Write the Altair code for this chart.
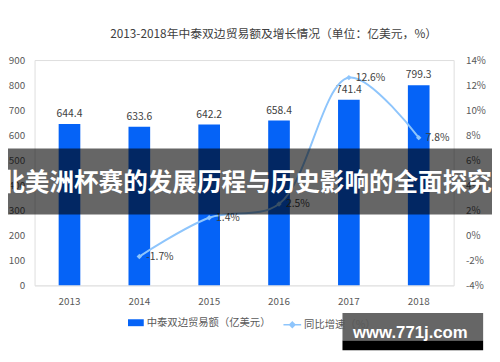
import altair as alt
import pandas as pd

years = ["2013", "2014", "2015", "2016", "2017", "2018"]
trade = [644.4, 633.6, 642.2, 658.4, 741.4, 799.3]
growth_years = ["2014", "2015", "2016", "2017", "2018"]
growth = [-1.7, 1.4, 2.5, 12.6, 7.8]
left_ticks = [0, 100, 200, 300, 400, 500, 600, 700, 800, 900]
right_ticks = [-4, -2, 0, 2, 4, 6, 8, 10, 12, 14]
title_text = "2013-2018年中泰双边贸易额及增长情况（单位：亿美元，%）"
bar_name = "中泰双边贸易额（亿美元）"
line_name = "同比增速（%）"
banner_text = "北美洲杯赛的发展历程与历史影响的全面探究"
watermark_text = "www.771j.com"

FONT = "Noto Sans CJK SC"
BLUE = "#0563f7"
LIGHT = "#8ec5fc"
GREY = "#595959"

bars_df = pd.DataFrame({"year": years, "trade": trade, "s1": bar_name})
line_df = pd.DataFrame({
    "year": growth_years,
    "growth": growth,
    "label": [f"{g}%" for g in growth],
    "s2": line_name,
})

x_enc = alt.X(
    "year:N", sort=years,
    scale=alt.Scale(domain=years, paddingInner=0.69, paddingOuter=0.345),
    axis=alt.Axis(title=None, labelAngle=0, ticks=False, domainColor="#e3e3e3",
                  labelPadding=11, labelFontSize=10, labelColor=GREY, labelFont=FONT),
)
y_left = alt.Y(
    "trade:Q",
    scale=alt.Scale(domain=[0, 900], nice=False, zero=False),
    axis=alt.Axis(title=None, orient="left", values=left_ticks, grid=False, domain=False,
                  ticks=False, labelPadding=10, labelFontSize=10, labelColor=GREY, labelFont=FONT),
)
y_right = alt.Y(
    "growth:Q",
    scale=alt.Scale(domain=[-4, 14], nice=False, zero=False),
    axis=alt.Axis(title=None, orient="right", values=right_ticks, grid=False, domain=False,
                  ticks=False, labelPadding=12, labelFontSize=10, labelColor=GREY, labelFont=FONT,
                  labelExpr="datum.value + '%'"),
)

bars = alt.Chart(bars_df).mark_bar().encode(
    x=x_enc, y=y_left,
    color=alt.Color("s1:N", scale=alt.Scale(domain=[bar_name], range=[BLUE]),
                    legend=alt.Legend(title=None, orient="none", legendX=95, legendY=259,
                                      symbolType="M-1,-0.44H1V0.44H-1Z", symbolSize=256,
                                      symbolStrokeWidth=0, labelFontSize=10.5, labelColor=GREY,
                                      labelFont=FONT, labelOffset=3, padding=0)),
)
bar_labels = alt.Chart(bars_df).mark_text(
    dy=-10, baseline="middle", fontSize=10.5, color="#404040", font=FONT
).encode(x=x_enc, y=y_left, text=alt.Text("trade:Q", format=".1f"))

left = alt.layer(bars, bar_labels)

line = alt.Chart(line_df).mark_line(interpolate="catmull-rom", strokeWidth=2).encode(
    x=x_enc, y=y_right,
    stroke=alt.Stroke("s2:N", scale=alt.Scale(domain=[line_name], range=[LIGHT]),
                      legend=alt.Legend(title=None, orient="none", legendX=252, legendY=259,
                                        symbolType="M-1,0H1M-0.3,0L0,-0.3L0.3,0L0,0.3Z",
                                        symbolSize=324, symbolStrokeWidth=1.5,
                                        symbolFillColor=LIGHT, labelFontSize=10.5,
                                        labelColor=GREY, labelFont=FONT, labelOffset=2,
                                        padding=0)),
)
points = alt.Chart(line_df).mark_point(shape="diamond", filled=True, size=30, opacity=1).encode(
    x=x_enc, y=y_right, color=alt.value(LIGHT)
)
line_labels = alt.Chart(line_df).mark_text(
    align="left", baseline="middle", dx=7, fontSize=10.5, color="#404040", font=FONT
).encode(x=x_enc, y=y_right, text="label:N")

right = alt.layer(line, points, line_labels)

one = alt.Data(values=[{}])
banner_rect = alt.Chart(one).mark_rect(color="black", opacity=0.6).encode(
    x=alt.value(-35), x2=alt.value(465), y=alt.value(90), y2=alt.value(157)
)
banner = alt.Chart(one).mark_text(
    text=banner_text, font=FONT, fontSize=25, fontWeight="bold", color="white",
    align="center", baseline="middle"
).encode(x=alt.value(215), y=alt.value(125))
wm_rect = alt.Chart(one).mark_rect(color="black", opacity=0.6).encode(
    x=alt.value(313), x2=alt.value(456), y=alt.value(257), y2=alt.value(285)
)
wm_strip = alt.Chart(one).mark_rect(color="black", opacity=1).encode(
    x=alt.value(313), x2=alt.value(456), y=alt.value(285), y2=alt.value(295)
)
wm_text = alt.Chart(one).mark_text(
    text=watermark_text, font="Liberation Sans", fontSize=17, fontWeight="bold",
    color="white", align="center", baseline="alphabetic"
).encode(x=alt.value(382), y=alt.value(283))

chart = alt.layer(
    left, right, banner_rect, banner, wm_rect, wm_strip, wm_text
).resolve_scale(
    y="independent", color="independent", stroke="independent"
).resolve_legend(color="independent", stroke="independent").properties(
    width=426, height=229,
    title=alt.TitleParams(title_text, fontSize=12, fontWeight="normal", color="#404040",
                          font=FONT, anchor="middle", frame="group", dx=30, offset=14),
    autosize=alt.AutoSizeParams(type="none"),
    padding={"left": 27, "top": 50, "right": 39, "bottom": 75},
).configure_view(stroke=None).configure(background="white")

chart.save("out.html", embed_options={"renderer": "svg", "actions": False})
